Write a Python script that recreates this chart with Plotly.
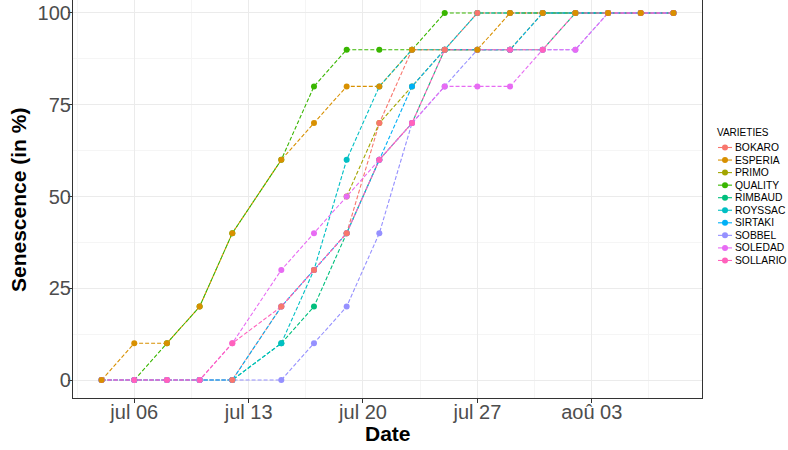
import plotly.graph_objects as go

# ---------------- data ----------------
dates = ["2020-07-04", "2020-07-06", "2020-07-08", "2020-07-10", "2020-07-12",
         "2020-07-15", "2020-07-17", "2020-07-19", "2020-07-21", "2020-07-23",
         "2020-07-25", "2020-07-27", "2020-07-29", "2020-07-31", "2020-08-02",
         "2020-08-04", "2020-08-06", "2020-08-08"]

varieties = ["BOKARO", "ESPERIA", "PRIMO", "QUALITY", "RIMBAUD",
             "ROYSSAC", "SIRTAKI", "SOBBEL", "SOLEDAD", "SOLLARIO"]

colors = ["#F8766D", "#D89000", "#A3A500", "#39B600", "#00BF7D",
          "#00BFC4", "#00B0F6", "#9590FF", "#E76BF3", "#FF62BC"]

BOKARO   = [None, None, None, None, 0, 20, 30, 40, 70, 90, 90, 100, 100, 100, 100, 100, 100, 100]
ESPERIA  = [0, 10, 10, 20, 40, 60, 70, 80, 80, 90, None, 90, 100, 100, 100, 100, 100, 100]
PRIMO    = [None, None, None, None, None, None, None, 50, 70, 80, 90, 90, 90, 100, 100, 100, 100, 100]
QUALITY  = [None, 0, 10, 20, 40, 60, 80, 90, 90, 90, 100, 100, 100, 100, 100, 100, 100, 100]
RIMBAUD  = [0, 0, 0, 0, 0, 10, 20, 40, 60, 70, 90, 90, 90, 90, 100, 100, 100, 100]
ROYSSAC  = [0, 0, 0, 0, 0, 10, 30, 60, 80, 90, 90, 100, 100, 100, 100, 100, 100, 100]
SIRTAKI  = [0, 0, 0, 0, 0, 20, 30, 40, 60, 80, 90, 90, 90, 100, 100, 100, 100, 100]
SOBBEL   = [0, 0, 0, 0, 0, 0, 10, 20, 40, 70, 80, 90, 90, 90, 90, 100, 100, 100]
SOLEDAD  = [0, 0, 0, 0, 10, 30, 40, 50, 60, 70, 80, 80, 80, 90, 90, 100, 100, 100]
SOLLARIO = [0, 0, 0, 0, 10, 20, 30, 40, 60, 70, 90, 90, 90, 90, 100, 100, 100, 100]

series = [BOKARO, ESPERIA, PRIMO, QUALITY, RIMBAUD,
          ROYSSAC, SIRTAKI, SOBBEL, SOLEDAD, SOLLARIO]

y_ticks = [0, 25, 50, 75, 100]
x_tickvals = ["2020-07-06", "2020-07-13", "2020-07-20", "2020-07-27", "2020-08-03"]
x_ticktext = ["jul 06", "jul 13", "jul 20", "jul 27", "aoû 03"]

# ---------------- figure ----------------
W, H = 788, 450
FONT = "Liberation Sans, Arial, sans-serif"
PX0, PX1 = 73, 702        # panel left/right (px)
PY1 = 398                 # panel bottom (px)
fig = go.Figure()

# lines first (all series), then points (like ggplot layers)
for name, col, vals in zip(varieties, colors, series):
    fig.add_trace(go.Scatter(
        x=dates, y=vals, mode="lines", name=name, connectgaps=True,
        line=dict(color=col, width=1.1, dash="4px,2px"),
        showlegend=False, hoverinfo="skip"))

on_top = ["BOKARO", "ESPERIA"]
order = [i for i in range(len(varieties)) if varieties[i] not in on_top] + \
        [varieties.index(v) for v in on_top]
for i in order:
    fig.add_trace(go.Scatter(
        x=dates, y=series[i], mode="markers", name=varieties[i],
        marker=dict(color=colors[i], size=6),
        showlegend=False))

# legend (drawn manually to match ggplot compact legend)
leg_x0, leg_x1 = 718, 732
leg_y0, leg_dy = 147.5, 12.55
for i, (name, col) in enumerate(zip(varieties, colors)):
    yc = leg_y0 + i * leg_dy
    fig.add_trace(go.Scatter(
        x=[leg_x0, (leg_x0 + leg_x1) / 2, leg_x1], y=[yc, yc, yc],
        xaxis="x2", yaxis="y2", mode="lines",
        line=dict(color=col, width=1.1), showlegend=False, hoverinfo="skip"))
    fig.add_trace(go.Scatter(
        x=[(leg_x0 + leg_x1) / 2], y=[yc], xaxis="x2", yaxis="y2", mode="markers",
        marker=dict(color=col, size=6), showlegend=False, hoverinfo="skip"))
    fig.add_annotation(x=735 / W, y=1 - yc / H, xref="paper", yref="paper",
                       text=name, showarrow=False, xanchor="left", yanchor="middle",
                       borderpad=0, borderwidth=0,
                       font=dict(size=10.3, color="#000000", family=FONT))
fig.add_annotation(x=717 / W, y=1 - 132.5 / H, xref="paper", yref="paper",
                   text="VARIETIES", showarrow=False, xanchor="left", yanchor="middle",
                   borderpad=0, borderwidth=0,
                   font=dict(size=10, color="#000000", family=FONT))

# axis titles
fig.add_annotation(x=(PX0 + PX1) / 2 / W, y=1 - 433 / H, xref="paper", yref="paper",
                   text="<b>Date</b>", showarrow=False, xanchor="center", yanchor="middle",
                   font=dict(size=21, color="#000000", family=FONT))
fig.add_annotation(x=18 / W, y=1 - 200 / H, xref="paper", yref="paper",
                   text="<b>Senescence (in %)</b>", textangle=-90, showarrow=False,
                   xanchor="center", yanchor="middle",
                   font=dict(size=21, color="#000000", family=FONT))

DAY = 86400000
fig.update_layout(
    width=W, height=H,
    margin=dict(l=0, r=0, t=0, b=0),
    paper_bgcolor="white", plot_bgcolor="white",
    font=dict(family=FONT),
    showlegend=False,
    hovermode=False,
    xaxis=dict(
        domain=[PX0 / W, PX1 / W], type="date",
        range=["2020-07-02 06:00", "2020-08-09 18:00"],
        tickvals=x_tickvals, ticktext=x_ticktext,
        tickfont=dict(size=20, color="#4D4D4D", family=FONT),
        ticks="outside", ticklen=4, tickcolor="#333333", tickwidth=1,
        ticklabelstandoff=-8, ticklabeloverflow="allow",
        showgrid=True, gridcolor="#EBEBEB", gridwidth=1.1,
        minor=dict(dtick=3.5 * DAY, tick0="2020-07-02 12:00", showgrid=True,
                   gridcolor="#F5F5F5", gridwidth=0.6),
        showline=True, linecolor="#333333", linewidth=1.1, mirror=False,
        zeroline=False, automargin=False,
    ),
    yaxis=dict(
        domain=[(H - PY1) / H, 1], range=[-4.9, 103.54],
        tickvals=y_ticks,
        tickfont=dict(size=20, color="#4D4D4D", family=FONT),
        ticks="outside", ticklen=4, tickcolor="#333333", tickwidth=1,
        ticklabelstandoff=-7, ticklabeloverflow="allow",
        showgrid=True, gridcolor="#EBEBEB", gridwidth=1.1,
        minor=dict(dtick=12.5, tick0=0, showgrid=True, gridcolor="#F5F5F5", gridwidth=0.6),
        showline=True, linecolor="#333333", linewidth=1.1, mirror=True,
        zeroline=False, automargin=False,
    ),
    xaxis2=dict(domain=[708 / W, 1], range=[708, 788], visible=False, fixedrange=True,
                anchor="y2"),
    yaxis2=dict(domain=[1 - 278 / H, 1 - 118 / H], range=[278, 118], visible=False,
                fixedrange=True, anchor="x2"),
)

# the page is opened at exactly the figure size: drop the default 8px body margin
fig.write_html("out.html", config={"displayModeBar": False},
               post_script="document.body.style.margin='0px';")
